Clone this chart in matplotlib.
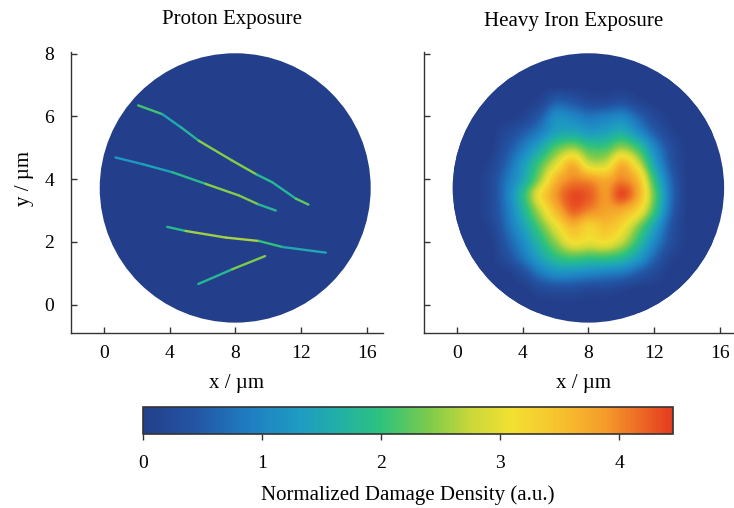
import matplotlib
matplotlib.use('Agg')
import matplotlib.pyplot as plt
import numpy as np
from matplotlib.collections import LineCollection
from matplotlib.colors import LinearSegmentedColormap, Normalize
from matplotlib.cm import ScalarMappable
from matplotlib.patches import Ellipse

plt.rcParams['font.family'] = ['Liberation Serif', 'DejaVu Serif']

# damage density colour scale (a.u.)
density_stops = [0.0, 0.45, 0.9, 1.3, 1.65, 2.0, 2.4, 2.75, 3.1, 3.5, 3.9, 4.45]
density_colors = ['#233f8b', '#2356a6', '#1f7fc2', '#1e9bc2', '#22b0a6', '#2ec27c',
                  '#7ccb4c', '#c9d83a', '#f2e032', '#f7c22e', '#f49a2a', '#e43b20']
density_max = 4.45
colorbar_ticks = [0, 1, 2, 3, 4]

# sample disk (um)
disk_center = (8.0, 3.72)
disk_radius = (8.25, 4.29)

x_ticks = [0, 4, 8, 12, 16]
y_ticks = [0, 2, 4, 6, 8]

# proton tracks: vertices (um) and damage density along the track
track_a_x = [2.09, 3.56, 4.70, 5.79, 7.82, 9.30, 10.26, 11.69, 12.46]
track_a_y = [6.35, 6.07, 5.65, 5.22, 4.59, 4.15, 3.90, 3.38, 3.19]
track_a_d = [2.6, 1.6, 1.4, 2.1, 2.8, 2.1, 1.6, 1.9, 2.6]

track_b_x = [0.71, 2.34, 4.17, 6.20, 8.23, 9.40, 10.47]
track_b_y = [4.69, 4.48, 4.22, 3.85, 3.48, 3.20, 3.00]
track_b_d = [1.2, 1.3, 1.5, 2.2, 2.7, 2.1, 1.5]

track_c_x = [3.86, 4.98, 7.42, 9.45, 10.87, 13.52]
track_c_y = [2.48, 2.35, 2.14, 2.03, 1.84, 1.66]
track_c_d = [1.4, 2.3, 2.8, 2.4, 1.6, 1.4]

track_d_x = [5.75, 7.82, 9.82]
track_d_y = [0.66, 1.13, 1.55]
track_d_d = [1.5, 2.1, 2.7]

# heavy iron exposure: damage map, columns at x = 1..14 um, rows y = 6.5 .. 0.5 um
iron_x = np.arange(1, 15)
iron_y = np.arange(6.5, 0.4, -0.5)
iron_dose = np.array([
    [0, 0, 0, 0, 0.1, 0.5, 0.4, 0.2, 0.2, 0.3, 0.1, 0, 0, 0],
    [0, 0, 0, 0.1, 0.5, 1.1, 1.0, 0.8, 0.9, 1.0, 0.6, 0.2, 0, 0],
    [0, 0, 0.2, 0.5, 0.9, 1.4, 1.5, 1.3, 1.4, 1.6, 1.1, 0.5, 0.1, 0],
    [0, 0, 0.4, 0.9, 1.5, 2.2, 2.5, 2.1, 2.1, 2.5, 2.0, 1.0, 0.3, 0],
    [0, 0.1, 0.6, 1.3, 2.1, 2.9, 3.6, 2.8, 2.8, 3.6, 2.8, 1.4, 0.4, 0],
    [0, 0.2, 0.8, 1.5, 2.5, 3.6, 4.0, 3.9, 3.7, 4.0, 3.5, 1.9, 0.6, 0],
    [0, 0.2, 0.9, 1.9, 3.1, 3.9, 4.35, 4.25, 3.9, 4.35, 3.7, 2.2, 0.7, 0],
    [0, 0.2, 0.8, 1.7, 2.7, 3.6, 4.2, 4.0, 3.8, 3.7, 3.2, 2.0, 0.6, 0],
    [0, 0.1, 0.7, 1.4, 2.2, 3.0, 3.6, 3.3, 3.5, 3.2, 2.4, 1.4, 0.4, 0],
    [0, 0, 0.5, 1.1, 1.8, 2.5, 3.1, 3.0, 3.1, 2.7, 1.9, 1.0, 0.3, 0],
    [0, 0, 0.3, 0.8, 1.4, 1.9, 2.1, 2.0, 2.0, 1.8, 1.3, 0.6, 0.1, 0],
    [0, 0, 0, 0.3, 0.8, 1.1, 1.1, 1.0, 0.9, 0.8, 0.5, 0.2, 0, 0],
    [0, 0, 0, 0, 0.2, 0.3, 0.3, 0.2, 0.2, 0.1, 0, 0, 0, 0],
])


def damage_cmap():
    pos = np.array(density_stops) / density_max
    return LinearSegmentedColormap.from_list('damage', list(zip(pos, density_colors)))


def style_axes(ax, show_ylabels):
    ax.set_xlim(-2, 17)
    ax.set_ylim(-0.9, 8.05)
    ax.set_xticks(x_ticks)
    ax.set_yticks(y_ticks)
    ax.spines['right'].set_visible(False)
    ax.spines['top'].set_visible(False)
    for side in ['left', 'bottom']:
        ax.spines[side].set_color('#333333')
        ax.spines[side].set_linewidth(1.0)
    ax.tick_params(direction='in', length=4, width=1, color='#333333', labelsize=14)
    ax.tick_params(axis='x', pad=9)
    ax.tick_params(axis='y', pad=12, labelleft=show_ylabels)
    ax.set_xlabel('x / \u00b5m', fontsize=15)


def draw_disk(ax, color):
    disk = Ellipse(disk_center, 2 * disk_radius[0], 2 * disk_radius[1],
                   facecolor=color, edgecolor='none', zorder=1)
    ax.add_patch(disk)
    return disk


def plot_proton(ax, cmap, norm):
    draw_disk(ax, cmap(0.0))
    tracks = [(track_a_x, track_a_y, track_a_d), (track_b_x, track_b_y, track_b_d),
              (track_c_x, track_c_y, track_c_d), (track_d_x, track_d_y, track_d_d)]
    for tx, ty, td in tracks:
        pts = np.column_stack([tx, ty])
        segs = np.stack([pts[:-1], pts[1:]], axis=1)
        seg_d = (np.array(td[:-1]) + np.array(td[1:])) / 2.0
        lc = LineCollection(segs, cmap=cmap, norm=norm, linewidths=1.7,
                            capstyle='round', joinstyle='round', zorder=2)
        lc.set_array(seg_d)
        ax.add_collection(lc)


def plot_heavy_iron(ax, cmap, norm):
    disk = draw_disk(ax, cmap(0.0))
    # zero border so the map fades into the undamaged disk
    dose = np.pad(iron_dose, 1)
    dx = iron_x[1] - iron_x[0]
    dy = iron_y[0] - iron_y[1]
    extent = [iron_x[0] - 1.5 * dx, iron_x[-1] + 1.5 * dx,
              iron_y[-1] - 1.5 * dy, iron_y[0] + 1.5 * dy]
    im = ax.imshow(dose, extent=extent, origin='upper', cmap=cmap, norm=norm,
                   aspect='auto', interpolation='catrom', interpolation_stage='data',
                   zorder=2)
    im.set_clip_path(disk)


def main():
    cmap = damage_cmap()
    norm = Normalize(0, density_max)

    fig = plt.figure(figsize=(7.34, 5.08), dpi=100)
    ax_p = fig.add_axes([71 / 734, 1 - 333 / 508, 312 / 734, 281 / 508])
    ax_h = fig.add_axes([424 / 734, 1 - 333 / 508, 310 / 734, 281 / 508])

    plot_proton(ax_p, cmap, norm)
    plot_heavy_iron(ax_h, cmap, norm)

    style_axes(ax_p, True)
    style_axes(ax_h, False)
    ax_h.set_xlim(-2, 16.85)

    ax_p.set_ylabel('y / \u00b5m', fontsize=15)
    ax_p.yaxis.set_label_coords(-0.118, 0.55)
    ax_p.xaxis.set_label_coords(0.53, -0.145)
    ax_h.xaxis.set_label_coords(0.516, -0.145)

    ax_p.text(0.516, 1.114, 'Proton Exposure', transform=ax_p.transAxes,
              ha='center', va='center', fontsize=15)
    ax_h.text(0.484, 1.107, 'Heavy Iron Exposure', transform=ax_h.transAxes,
              ha='center', va='center', fontsize=15)

    cax = fig.add_axes([143 / 734, 1 - 434 / 508, 530 / 734, 27 / 508])
    cb = fig.colorbar(ScalarMappable(norm=norm, cmap=cmap), cax=cax, orientation='horizontal')
    cb.set_ticks(colorbar_ticks)
    cb.outline.set_edgecolor('#333333')
    cb.outline.set_linewidth(1.2)
    cax.tick_params(direction='out', length=4, width=1, color='#333333', labelsize=14, pad=11)
    cb.set_label('Normalized Damage Density (a.u.)', fontsize=15, labelpad=10)

    fig.savefig('out.png', dpi=100)
    plt.close(fig)


if __name__ == '__main__':
    main()
